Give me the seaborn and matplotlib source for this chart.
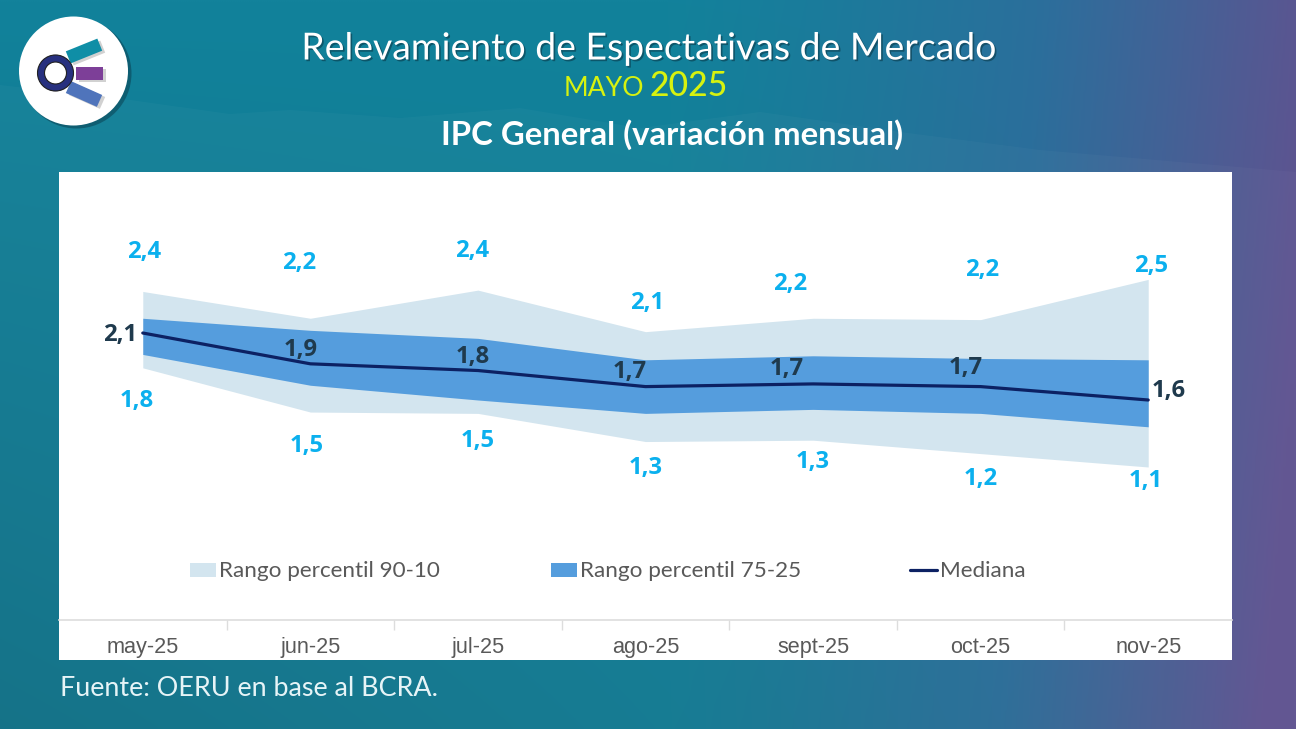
import numpy as np
import pandas as pd
import matplotlib
matplotlib.use("Agg")
import matplotlib.pyplot as plt
import matplotlib.patheffects as pe
from matplotlib.colors import LinearSegmentedColormap
from matplotlib.patches import Circle, Rectangle, Polygon
from matplotlib.lines import Line2D
from matplotlib.transforms import Affine2D
import seaborn as sns

months = ["may-25", "jun-25", "jul-25", "ago-25", "sept-25", "oct-25", "nov-25"]
p90 = [2.41, 2.21, 2.42, 2.11, 2.21, 2.20, 2.50]
p75 = [2.21, 2.12, 2.06, 1.90, 1.93, 1.91, 1.90]
mediana = [2.10, 1.87, 1.82, 1.70, 1.72, 1.70, 1.60]
p25 = [1.94, 1.71, 1.60, 1.50, 1.53, 1.50, 1.40]
p10 = [1.84, 1.51, 1.50, 1.29, 1.30, 1.20, 1.10]
lab_p90 = ["2,4", "2,2", "2,4", "2,1", "2,2", "2,2", "2,5"]
lab_p10 = ["1,8", "1,5", "1,5", "1,3", "1,3", "1,2", "1,1"]
lab_med = ["2,1", "1,9", "1,8", "1,7", "1,7", "1,7", "1,6"]

W, H = 1296, 729
sns.set_theme(style="white")
plt.rcParams["font.family"] = ["Lato", "DejaVu Sans"]
fig = plt.figure(figsize=(W / 100, H / 100), dpi=100)

# full-figure pixel canvas
bg = fig.add_axes([0, 0, 1, 1])
bg.set_xlim(0, W); bg.set_ylim(H, 0); bg.axis("off")
yy, xx = np.mgrid[0:1:200j, 0:1:360j]
t = np.clip((xx - 0.45) / 0.55, 0, 1) ** 1.3 + 0.12 * (yy - 0.5) * (xx > 0.45)
t = np.clip(t - 0.25 * yy * (1 - xx), 0, 1)
cmap = LinearSegmentedColormap.from_list("bg", ["#12829b", "#2b6f9c", "#5f5390"])
base = cmap(t)[..., :3]
dark = (1 - 0.14 * yy * (1 - xx))[..., None]
bg.imshow(base * dark, extent=(0, W, H, 0), aspect="auto", interpolation="bilinear")

# faint mountain silhouette behind the title block
bg.add_patch(Polygon([(0, 85), (60, 92), (130, 100), (230, 114), (290, 110), (400, 118), (520, 108),
                      (640, 128), (760, 112), (900, 132), (1040, 150), (1296, 172),
                      (1296, 729), (0, 729)], closed=True, fc="white", ec="none", alpha=0.028, zorder=1))

# white panel
bg.add_patch(Rectangle((59, 172), 1173, 488, fc="white", ec="none", zorder=2))

# logo
bg.add_patch(Circle((76.5, 73.5), 55, fc="#0a4152", ec="none", alpha=0.55, zorder=2))
bg.add_patch(Circle((73.5, 71), 54.5, fc="white", ec="none", zorder=3))
def bar(cx, cy, w, h, ang, col):
    s = Rectangle((-w / 2, -h / 2), w, h, fc="#999999", ec="none", zorder=3.5, alpha=0.45,
                  transform=Affine2D().rotate_deg(ang).translate(cx + 3, cy + 2) + bg.transData)
    r = Rectangle((-w / 2, -h / 2), w, h, fc=col, ec="none", zorder=4,
                  transform=Affine2D().rotate_deg(ang).translate(cx, cy) + bg.transData)
    bg.add_patch(s); bg.add_patch(r)
bar(84, 51, 34, 13, -22, "#0f8ea6")
bar(89.5, 73, 27, 13, 0, "#7d3f98")
bar(84, 94, 34, 13, 24, "#4f74bb")
bg.add_patch(Circle((55.5, 73), 14.5, fc="white", ec="#27307f", lw=5.2, zorder=5))
bg.add_patch(Circle((55.5, 73), 18, fc="none", ec="#222222", lw=0.8, zorder=5))
bg.add_patch(Circle((55.5, 73), 11, fc="none", ec="#222222", lw=0.8, zorder=5))

shadow = [pe.withSimplePatchShadow(offset=(1.2, -1.2), shadow_rgbFace="#0a3a4a", alpha=0.6)]
bg.text(649, 49, "Relevamiento de Espectativas de Mercado", color="white", fontsize=26.9,
        ha="center", va="center", zorder=6, path_effects=shadow)
bg.text(604, 88, "MAYO", color="#d7f20f", fontsize=19.2, ha="center", va="center", zorder=6)
bg.text(689, 86, "2025", color="#d7f20f", fontsize=24.3, ha="center", va="center", zorder=6, fontweight="medium")
bg.text(672, 135, "IPC General (variación mensual)", color="white", fontsize=23.7,
        fontweight="bold", ha="center", va="center", zorder=6)
bg.text(60, 689, "Fuente: OERU en base al BCRA.", color="#e6f4f7", fontsize=19.4,
        ha="left", va="center", zorder=6)

# chart axes: x over the panel, bottom spine at y=620
ax = fig.add_axes([59 / W, 1 - 620 / H, 1173 / W, 448 / H], zorder=3)
ax.patch.set_alpha(0)
df = pd.DataFrame({"mes": months, "pos": range(len(months)), "p90": p90, "p75": p75,
                   "mediana": mediana, "p25": p25, "p10": p10})
ax.fill_between(df["pos"], df["p10"], df["p90"], color="#d3e5ef", lw=0)
ax.fill_between(df["pos"], df["p25"], df["p75"], color="#559ddd", lw=0)
sns.lineplot(data=df, x="pos", y="mediana", color="#0c2163", lw=2.3, ax=ax, legend=False)

# y(v) = 333 - (v - 2.1) * 134 px
ax.set_xlim(-0.5, 6.5)
ax.set_ylim(2.1 - (620 - 333) / 134, 2.1 + (333 - 172) / 134)
ax.set_xlabel(""); ax.set_ylabel("")
ax.set_yticks([])
ax.set_xticks(df["pos"])
ax.set_xticklabels(months, fontsize=15.6, color="#595959", family="Liberation Sans")
ax.set_xticks(np.arange(0.5, 6, 1), minor=True)
ax.tick_params(axis="x", which="major", length=0, pad=12)
ax.tick_params(axis="x", which="minor", length=7, width=1, color="#dddddd", bottom=True)
sns.despine(ax=ax, left=True, top=True, right=True)
ax.spines["bottom"].set_color("#dddddd")
ax.spines["bottom"].set_linewidth(1.2)

# data labels, offsets in pixels from the point
def lab(i, val, txt, dx, dy, col):
    ax.annotate(txt, (i, val), xytext=(dx * 0.72, -dy * 0.72), textcoords="offset points",
                ha="center", va="center", color=col, fontsize=17.2, fontweight="bold",
                family="Open Sans")
up_off = [(1, -39), (-11, -55), (-6, -39), (2, -29), (-23, -34), (1, -50), (3, -13)]
lo_off = [(-6, 33), (-4, 34), (0, 28), (0, 26), (0, 22), (0, 25), (-3, 14)]
med_off = [(-23, 2), (-10, -14), (-5, -14), (-16, -15), (-26, -15), (-15, -19), (20, -9)]
LBLUE, DARK = "#0bb0ee", "#1f3a4d"
for i in range(len(months)):
    lab(i, p90[i], lab_p90[i], *up_off[i], LBLUE)
    lab(i, p10[i], lab_p10[i], *lo_off[i], LBLUE)
    lab(i, mediana[i], lab_med[i], *med_off[i], DARK)

# legend
lx = [(190, 216), (551, 577)]
for (a, b), c, txt in zip(lx, ["#d3e5ef", "#559ddd"], ["Rango percentil 90-10", "Rango percentil 75-25"]):
    bg.add_patch(Rectangle((a, 563), b - a, 14, fc=c, ec="none", zorder=6))
    bg.text(b + 3, 571, txt, color="#595959", fontsize=16.2, ha="left", va="center", zorder=6)
bg.add_line(Line2D([910, 937], [570, 570], color="#0c2163", lw=2.3, zorder=6))
bg.text(940, 571, "Mediana", color="#595959", fontsize=16.2, ha="left", va="center", zorder=6)

fig.savefig("out.png", dpi=100)
